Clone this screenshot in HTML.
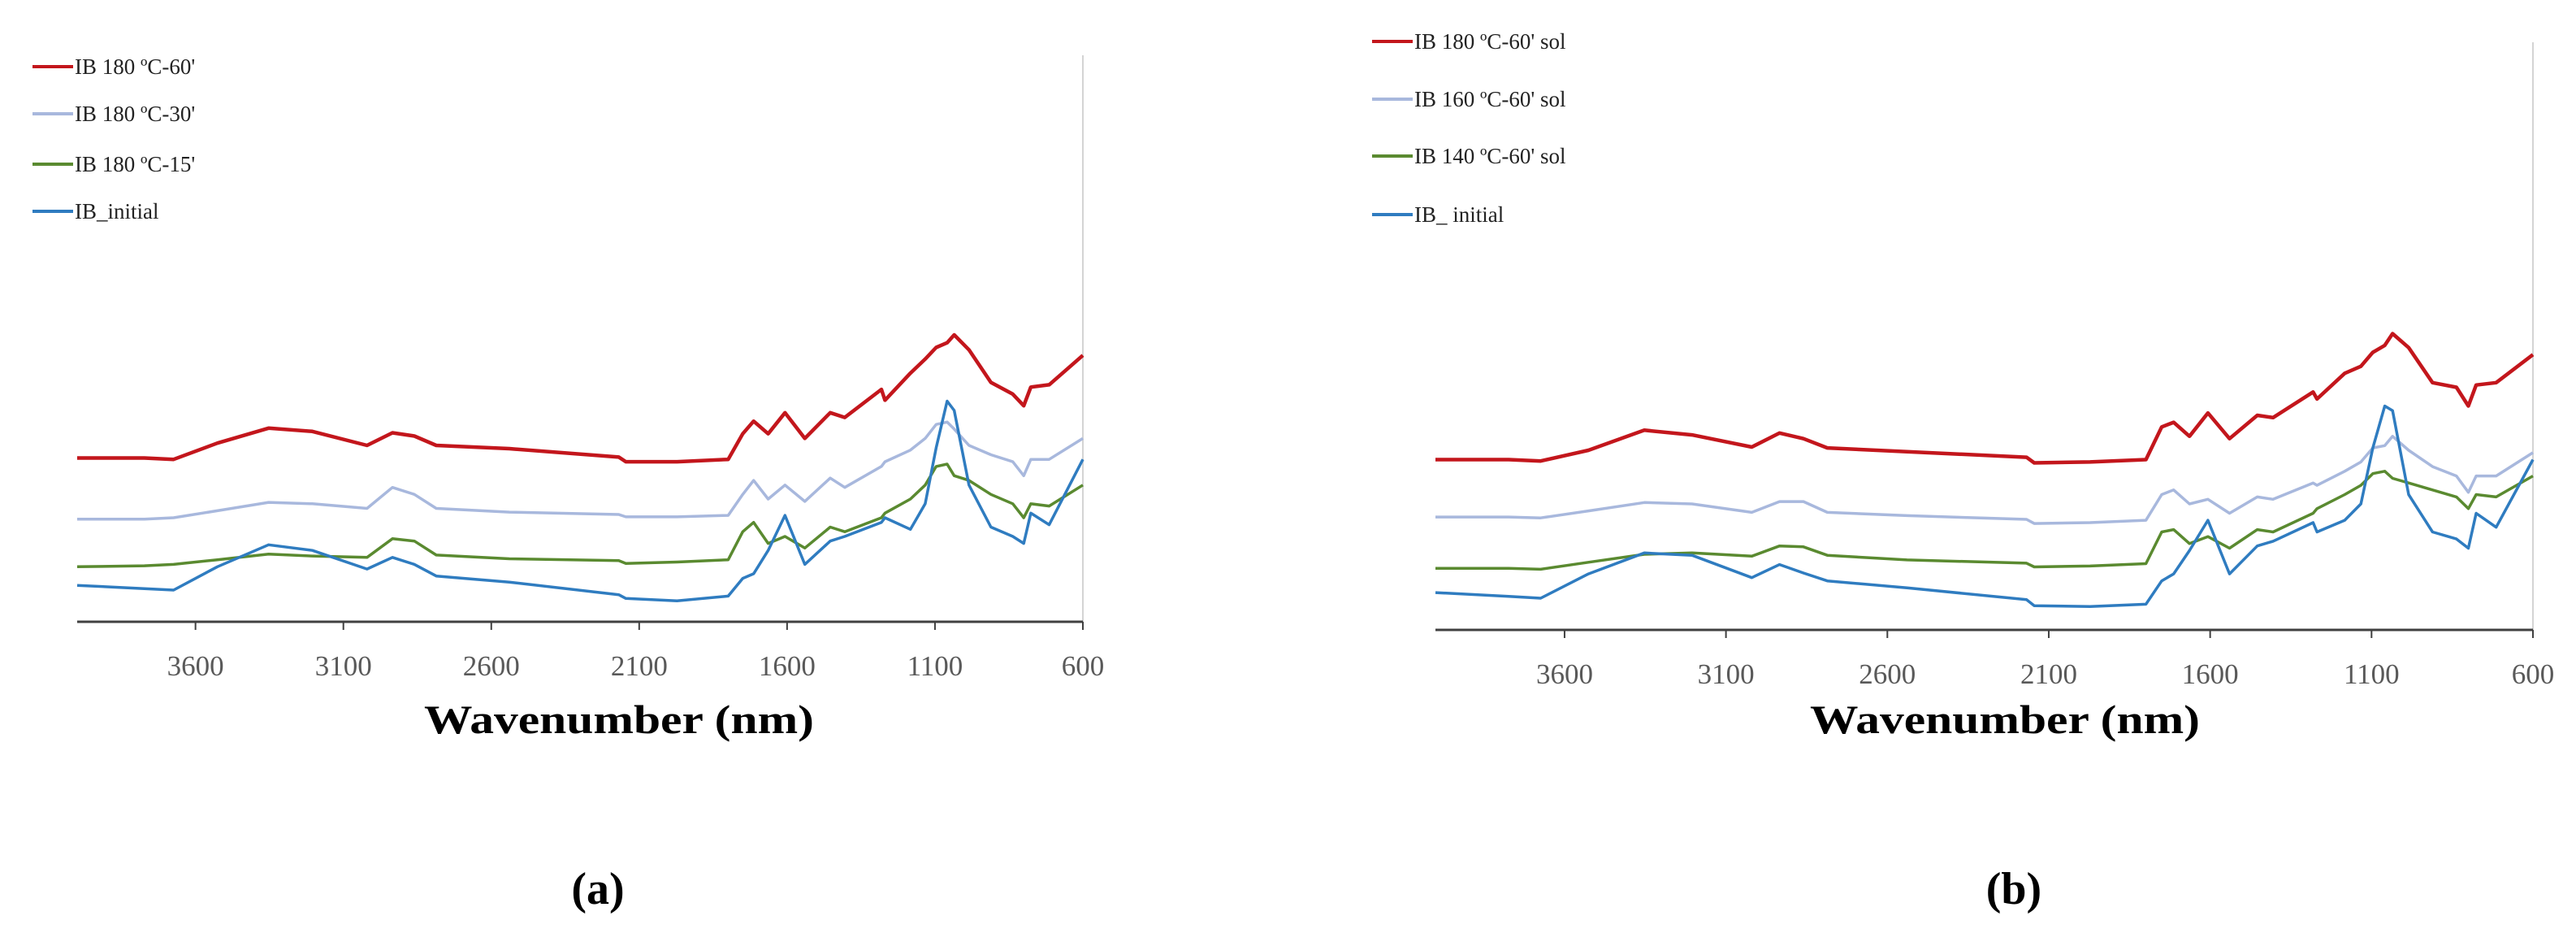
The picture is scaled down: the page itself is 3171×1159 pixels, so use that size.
<!DOCTYPE html>
<html><head><meta charset="utf-8"><style>
html,body{margin:0;padding:0;background:#fff;}
svg{display:block;font-family:"Liberation Serif",serif;}
</style></head><body>
<svg id="fig" width="3171" height="1159" viewBox="0 0 3171 1159" xmlns="http://www.w3.org/2000/svg">
<g id="pa"></g>
<g id="pb"></g>
<text x="736" y="1112" font-size="56" font-weight="bold" text-anchor="middle">(a)</text>
<text x="2479" y="1112" font-size="56" font-weight="bold" text-anchor="middle">(b)</text>
</svg>
<script>
const wavenumbers = [4000,3773,3674,3526,3353,3205,3020,2934,2860,2786,2539,2169,2145,1972,1799,1750,1713,1664,1607,1540,1454,1405,1281,1269,1183,1133,1096,1059,1035,985,911,837,800,776,714,600];
const tickLabels = [3600,3100,2600,2100,1600,1100,600];
const aNames = ["IB 180 \u00baC-60'","IB 180 \u00baC-30'","IB 180 \u00baC-15'","IB_initial"];
const bNames = ["IB 180 \u00baC-60' sol","IB 160 \u00baC-60' sol","IB 140 \u00baC-60' sol","IB_ initial"];
const aRed = [351,351,348,383,415,408,378,405,398,378,371,353,343,343,348,403,430,403,448,393,448,438,498,475,533,563,588,598,615,583,513,488,463,503,508,571];
const aLight = [220,220,223,238,256,253,243,288,273,243,235,230,225,225,228,273,303,263,293,258,308,288,333,343,368,393,423,428,413,378,358,343,313,348,348,393];
const aGreen = [118,120,123,133,145,141,138,178,173,143,135,131,125,128,133,193,213,168,183,158,203,193,223,233,263,293,333,338,313,303,273,253,223,253,248,293];
const aBlue = [78,71,68,118,165,153,113,138,123,98,85,58,50,45,55,93,103,153,228,123,173,183,213,223,198,253,373,473,453,293,203,183,168,233,208,348];
const bRed = [365,365,362,385,428,418,392,422,410,390,382,370,358,360,365,435,445,415,465,410,460,455,510,495,550,565,595,610,635,605,530,520,480,525,530,590];
const bLight = [242,242,240,255,273,270,252,275,275,252,245,237,228,230,235,290,300,270,280,250,285,280,315,310,340,360,390,395,415,385,350,330,295,330,330,380];
const bGreen = [132,132,130,145,162,165,158,180,178,160,150,143,135,137,142,210,215,185,200,175,215,210,250,260,290,310,335,340,325,315,300,285,260,290,285,330];
const bBlue = [80,72,68,120,165,160,112,140,122,105,90,65,52,50,55,105,120,170,235,120,180,190,230,210,235,270,390,480,470,290,210,195,175,250,220,365];

const NS="http://www.w3.org/2000/svg";
const colors=["#c3161c","#a8b8dd","#5a8a30","#2f7cc0"];
function mk(tag,attrs,parent){const e=document.createElementNS(NS,tag);for(const k in attrs)e.setAttribute(k,attrs[k]);parent.appendChild(e);return e;}

function panel(g,cfg,names,series){
  const x=w=>cfg.x0+(4000-w)/(4000-600)*(cfg.x1-cfg.x0);
  const y=v=>cfg.axisY-v*0.574;
  const rb=mk('line',{x1:cfg.x1,y1:cfg.topY,x2:cfg.x1,y2:cfg.axisY,stroke:'#d4d4d4','stroke-width':2},g);
  
  
  series.forEach((s,i)=>{
    const d=s.map((v,j)=>(j?'L':'M')+x(wavenumbers[j]).toFixed(1)+','+y(v).toFixed(1)).join(' ');
    const p=mk('path',{d:d,fill:'none',stroke:colors[i],'stroke-width':i===0?4.5:3.5,'stroke-linejoin':'round'},g);
    
    
  });
  const ax=mk('line',{x1:cfg.x0,y1:cfg.axisY,x2:cfg.x1,y2:cfg.axisY,stroke:'#404040','stroke-width':3},g);
  
  
  tickLabels.forEach(t=>{
    const tk=mk('line',{x1:x(t),y1:cfg.axisY,x2:x(t),y2:cfg.axisY+10,stroke:'#404040','stroke-width':2},g);
    
    
    const tl=mk('text',{x:x(t),y:cfg.axisY+66,'font-size':35,fill:'#595959','text-anchor':'middle'},g);
    tl.textContent=t;
    
    
  });
  const tt=mk('text',{x:cfg.titleX,y:902,'font-size':50,'font-weight':'bold','text-anchor':'middle',textLength:480,lengthAdjust:'spacingAndGlyphs'},g);
  tt.textContent='Wavenumber (nm)';
  
  
  names.forEach((n,i)=>{
    const ly=cfg.legY[i];
    const ll=mk('line',{x1:cfg.legX,y1:ly,x2:cfg.legX+50,y2:ly,stroke:colors[i],'stroke-width':4},g);
    
    
    const lt=mk('text',{x:cfg.legX+52,y:ly+9,'font-size':27,fill:'#222'},g);
    lt.textContent=n;
    
    
  });
}
panel(document.getElementById('pa'),{x0:95,x1:1333,axisY:765,topY:68,legX:40,legY:[82,140,202,260],titleX:762},aNames,[aRed,aLight,aGreen,aBlue]);
panel(document.getElementById('pb'),{x0:1767,x1:3118,axisY:775,topY:52,legX:1689,legY:[51,122,192,264],titleX:2468},bNames,[bRed,bLight,bGreen,bBlue]);
</script>
</body></html>
